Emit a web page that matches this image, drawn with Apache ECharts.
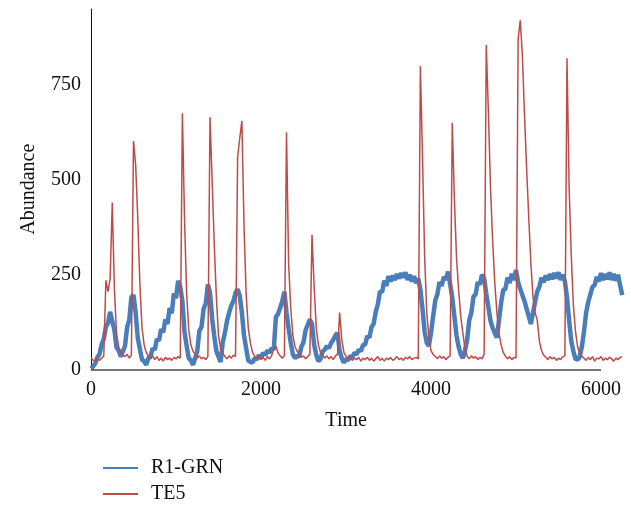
<!DOCTYPE html>
<html>
<head>
<meta charset="utf-8">
<script src="https://cdn.jsdelivr.net/npm/echarts@6/dist/echarts.min.js"></script>
<style>
html,body{margin:0;padding:0;background:#fff;}
#chart{width:631px;height:505px;}
</style>
</head>
<body>
<div id="chart"></div>
<script>
// Time grid (step 25)
const timeStep = 25;
const r1grn = [
  3, 8, 16, 32, 40, 66, 80, 112, 122, 152,
  128, 104, 58, 50, 34, 48, 62, 112, 130, 190,
  196, 150, 84, 54, 26, 22, 12, 30, 34, 56,
  52, 80, 76, 106, 98, 132, 120, 162, 148, 200,
  188, 234, 218, 180, 100, 62, 30, 24, 12, 30,
  48, 102, 112, 160, 174, 224, 202, 135, 88, 48,
  34, 20, 72, 96, 128, 150, 168, 180, 202, 212,
  194, 150, 90, 56, 24, 20, 18, 30, 26, 38,
  30, 44, 38, 50, 44, 56, 52, 138, 146, 162,
  180, 205, 150, 108, 70, 40, 30, 36, 34, 60,
  72, 104, 118, 132, 120, 66, 38, 22, 28, 48,
  52, 62, 56, 70, 78, 90, 96, 48, 30, 18,
  28, 24, 36, 32, 44, 40, 52, 48, 64, 66,
  88, 84, 112, 120, 152, 172, 206, 204, 234, 220,
  246, 232, 248, 236, 252, 240, 254, 242, 256, 236,
  250, 232, 246, 228, 240, 210, 160, 100, 70, 62,
  96, 140, 182, 198, 230, 220, 244, 236, 258, 225,
  190, 140, 90, 60, 40, 30, 50, 78, 130, 150,
  192, 198, 230, 224, 250, 240, 200, 165, 128, 110,
  96, 84, 130, 176, 210, 212, 242, 228, 252, 236,
  262, 230, 212, 196, 180, 160, 140, 120, 150, 178,
  206, 218, 242, 230, 248, 236, 252, 238, 254, 240,
  256, 236, 250, 232, 190, 130, 75, 48, 28, 26,
  34, 60, 100, 150, 178, 198, 218, 222, 244, 232,
  254, 236, 252, 238, 256, 236, 252, 234, 250, 222,
  196
];
const te5 = [
  32, 24, 22, 30, 24, 30, 35, 235, 205, 240,
  440, 215, 95, 60, 45, 38, 34, 40, 30, 38,
  602, 540, 400, 225, 110, 65, 45, 35, 28, 36,
  26, 34, 24, 30, 22, 32, 26, 30, 24, 32,
  28, 34, 30, 675, 400, 200, 105, 65, 48, 40,
  30, 36, 28, 32, 26, 34, 665, 500, 330, 190,
  90, 55, 42, 35, 28, 36, 30, 38, 34, 560,
  610, 655, 380, 200, 110, 70, 45, 35, 28, 36,
  26, 32, 24, 34, 28, 36, 55, 62, 44, 36,
  30, 36, 625, 280, 160, 90, 60, 48, 40, 32,
  36, 28, 34, 40, 355, 220, 110, 65, 45, 38,
  30, 36, 28, 34, 26, 36, 40, 150, 80, 45,
  35, 28, 34, 24, 30, 26, 32, 22, 30, 26,
  32, 24, 30, 22, 28, 34, 24, 30, 22, 30,
  26, 32, 24, 28, 34, 26, 30, 24, 32, 28,
  34, 26, 30, 32, 28, 800, 560, 300, 150, 85,
  50, 40, 35, 28, 36, 30, 34, 26, 32, 36,
  650, 450, 295, 210, 140, 95, 55, 35, 28, 36,
  30, 34, 26, 32, 28, 40, 855, 680, 480, 340,
  230, 150, 95, 65, 45, 35, 28, 34, 26, 32,
  30, 870, 920, 830, 670, 530, 400, 280, 190, 150,
  130, 75, 50, 38, 32, 26, 34, 28, 32, 24,
  30, 26, 34, 36, 820, 480, 300, 170, 100, 60,
  42, 35, 30, 24, 32, 26, 34, 22, 30, 28,
  34, 24, 30, 26, 32, 28, 22, 30, 26, 32,
  34
];
const time = r1grn.map((_, i) => i * timeStep);
const xTicks = [0, 2000, 4000, 6000];
const yTicks = [0, 250, 500, 750];
const seriesNames = ['R1-GRN', 'TE5'];

const serif = '"Liberation Serif", "DejaVu Serif", serif';
const chart = echarts.init(document.getElementById('chart'), null, {renderer: 'canvas'});
chart.setOption({
  animation: false,
  backgroundColor: '#fff',
  grid: {left: 91, right: 8.75, top: 9, bottom: 135.5, containLabel: false},
  xAxis: {
    type: 'value', min: 0, max: 6250, interval: 2000,
    name: 'Time', nameLocation: 'middle', nameGap: 41,
    nameTextStyle: {fontFamily: serif, fontSize: 20, color: '#111', padding: [0, 21, 0, 0]},
    axisLine: {show: false},
    axisTick: {show: false},
    splitLine: {show: false},
    axisLabel: {fontFamily: serif, fontSize: 20, color: '#111', margin: 10, showMaxLabel: false,
      formatter: v => xTicks.includes(v) ? String(v) : ''}
  },
  yAxis: {
    type: 'value', min: 0, max: 950, interval: 250,
    name: 'Abundance', nameLocation: 'middle', nameGap: 52,
    nameTextStyle: {fontFamily: serif, fontSize: 20, color: '#111'},
    axisLine: {show: true, lineStyle: {color: '#111', width: 1}},
    axisTick: {show: false},
    splitLine: {show: false},
    axisLabel: {fontFamily: serif, fontSize: 20, color: '#111', margin: 10, showMaxLabel: false,
      formatter: v => yTicks.includes(v) ? String(v) : ''}
  },
  legend: {
    orient: 'vertical', left: 103, top: 458, itemGap: 6, padding: 0,
    itemWidth: 35, itemHeight: 2, icon: 'rect',
    textStyle: {fontFamily: serif, fontSize: 20, lineHeight: 20, color: '#111', padding: [0, 0, 0, 8]},
    data: seriesNames
  },
  series: [
    {
      name: seriesNames[0], type: 'line', symbol: 'none', z: 2,
      data: r1grn.map((v, i) => [time[i], v]),
      lineStyle: {color: '#4A7EBB', width: 4.5}, itemStyle: {color: '#4A7EBB'},
      markLine: {
        silent: true, symbol: ['none', 'none'], label: {show: false},
        lineStyle: {color: '#4a4a4a', width: 1.5, type: 'solid'},
        data: [[{coord: [xTicks[0], 0]}, {coord: [xTicks[xTicks.length - 1], 0]}]]
      }
    },
    {
      name: seriesNames[1], type: 'line', symbol: 'none', z: 3,
      data: te5.map((v, i) => [time[i], v]),
      lineStyle: {color: '#BE4B48', width: 1.5}, itemStyle: {color: '#BE4B48'}
    }
  ]
});
</script>
</body>
</html>
